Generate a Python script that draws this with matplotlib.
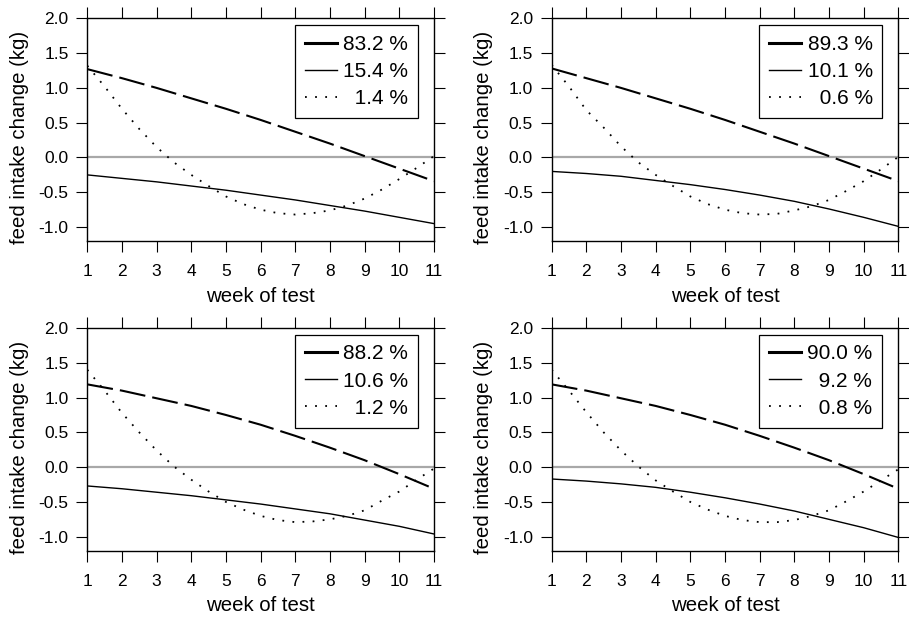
import matplotlib
matplotlib.use('Agg')
import matplotlib.pyplot as plt
from matplotlib.lines import Line2D

plt.rcParams['font.family'] = ['Liberation Sans', 'DejaVu Sans']

# x values
weeks = [1, 2, 3, 4, 5, 6, 7, 8, 9, 10, 11]
half_weeks = [1, 1.5, 2, 2.5, 3, 3.5, 4, 4.5, 5, 5.5, 6, 6.5, 7, 7.5, 8, 8.5,
              9, 9.5, 10, 10.5, 11]

# panel a (top left)
shares_a = [83.2, 15.4, 1.4]
dashed_a = [1.27, 1.14, 1.00, 0.85, 0.70, 0.54, 0.37, 0.20, 0.02, -0.16, -0.34]
solid_a = [-0.25, -0.30, -0.35, -0.41, -0.47, -0.54, -0.61, -0.69, -0.77, -0.86, -0.95]
dotted_a = [1.32, 1.02, 0.70, 0.41, 0.15, -0.07, -0.25, -0.41, -0.56, -0.67, -0.75,
            -0.80, -0.82, -0.80, -0.76, -0.69, -0.59, -0.46, -0.31, -0.15, 0.02]

# panel b (top right)
shares_b = [89.3, 10.1, 0.6]
dashed_b = [1.28, 1.14, 1.00, 0.85, 0.70, 0.54, 0.37, 0.20, 0.02, -0.16, -0.34]
solid_b = [-0.20, -0.23, -0.27, -0.33, -0.39, -0.46, -0.54, -0.63, -0.74, -0.86, -0.99]
dotted_b = [1.33, 1.02, 0.68, 0.43, 0.16, -0.07, -0.25, -0.41, -0.56, -0.67, -0.75,
            -0.80, -0.82, -0.81, -0.76, -0.70, -0.61, -0.48, -0.34, -0.17, 0.01]

# panel c (bottom left)
shares_c = [88.2, 10.6, 1.2]
dashed_c = [1.19, 1.10, 0.99, 0.88, 0.75, 0.61, 0.45, 0.28, 0.10, -0.10, -0.31]
solid_c = [-0.27, -0.31, -0.36, -0.41, -0.47, -0.53, -0.60, -0.67, -0.76, -0.85, -0.96]
dotted_c = [1.40, 1.10, 0.78, 0.50, 0.24, 0.01, -0.18, -0.35, -0.50, -0.61, -0.70,
            -0.76, -0.79, -0.78, -0.75, -0.70, -0.62, -0.48, -0.35, -0.18, -0.02]

# panel d (bottom right)
shares_d = [90.0, 9.2, 0.8]
dashed_d = [1.19, 1.10, 0.99, 0.88, 0.75, 0.61, 0.45, 0.28, 0.10, -0.10, -0.31]
solid_d = [-0.17, -0.20, -0.24, -0.29, -0.36, -0.44, -0.53, -0.63, -0.75, -0.87, -1.01]
dotted_d = [1.40, 1.10, 0.79, 0.50, 0.24, 0.01, -0.19, -0.35, -0.50, -0.61, -0.70,
            -0.76, -0.79, -0.79, -0.76, -0.70, -0.62, -0.49, -0.35, -0.19, -0.03]

y_ticks = [-1.0, -0.5, 0.0, 0.5, 1.0, 1.5, 2.0]

TICK_SIZE = 12.5
LABEL_SIZE = 14.7
LEGEND_SIZE = 15
DOTS = (0, (1, 4.6))


def share_labels(shares):
    texts = [f'{v:.1f} %' for v in shares]
    longest = max(len(t) for t in texts)
    # figure spaces keep the numbers right aligned, like in the original
    return ['\u2007' * (longest - len(t)) + t for t in texts]


def draw_panel(fig, rect, shares, dashed, solid, dotted):
    ax = fig.add_axes(rect)
    ax.axhline(0, color='0.66', lw=1.6, zorder=1)
    ax.plot(weeks, dashed, color='black', lw=1.5, dashes=(12.5, 3.4),
            dash_capstyle='butt', zorder=3)
    ax.plot(weeks, solid, color='black', lw=1.0, zorder=3)
    ax.plot(half_weeks, dotted, color='black', lw=1.3, linestyle=DOTS, zorder=3)

    ax.set_xlim(1, 11)
    ax.set_ylim(-1.2, 2.0)
    ax.set_xticks(weeks)
    ax.set_yticks(y_ticks)
    ax.set_yticklabels([f'{v:.1f}' for v in y_ticks])
    ax.tick_params(direction='out', length=8, width=0.8, top=True, right=True,
                   labeltop=False, labelright=False, labelsize=TICK_SIZE)
    ax.tick_params(axis='x', pad=8.9)
    ax.tick_params(axis='y', pad=5.5)
    for s in ax.spines.values():
        s.set_linewidth(1.0)

    ax.set_xlabel('week of test', fontsize=LABEL_SIZE)
    ax.xaxis.set_label_coords(0.5, -0.2726)
    ax.xaxis.label.set_va('baseline')
    ax.set_ylabel('feed intake change (kg)', fontsize=LABEL_SIZE)
    ax.yaxis.set_label_coords(-0.181, 0.465)
    ax.yaxis.label.set_va('baseline')

    handles = [
        Line2D([], [], color='black', lw=2.2),
        Line2D([], [], color='black', lw=1.0),
        Line2D([], [], color='black', lw=1.3, linestyle=DOTS),
    ]
    leg = ax.legend(handles, share_labels(shares), loc='upper right',
                    bbox_to_anchor=(0.954, 0.970), borderaxespad=0,
                    fontsize=LEGEND_SIZE, handlelength=1.55, handletextpad=0.3,
                    borderpad=0.47, labelspacing=0.39, fancybox=False,
                    framealpha=1, edgecolor='black')
    leg.get_frame().set_linewidth(0.9)
    return ax


if __name__ == '__main__':
    fig = plt.figure(figsize=(9.09, 6.17), dpi=100)
    w, h = 0.3814, 0.3609
    draw_panel(fig, [0.0960, 0.6094, w, h], shares_a, dashed_a, solid_a, dotted_a)
    draw_panel(fig, [0.6069, 0.6094, w, h], shares_b, dashed_b, solid_b, dotted_b)
    draw_panel(fig, [0.0960, 0.1075, w, h], shares_c, dashed_c, solid_c, dotted_c)
    draw_panel(fig, [0.6069, 0.1075, w, h], shares_d, dashed_d, solid_d, dotted_d)
    plt.savefig('out.png', dpi=100)
    plt.close()
